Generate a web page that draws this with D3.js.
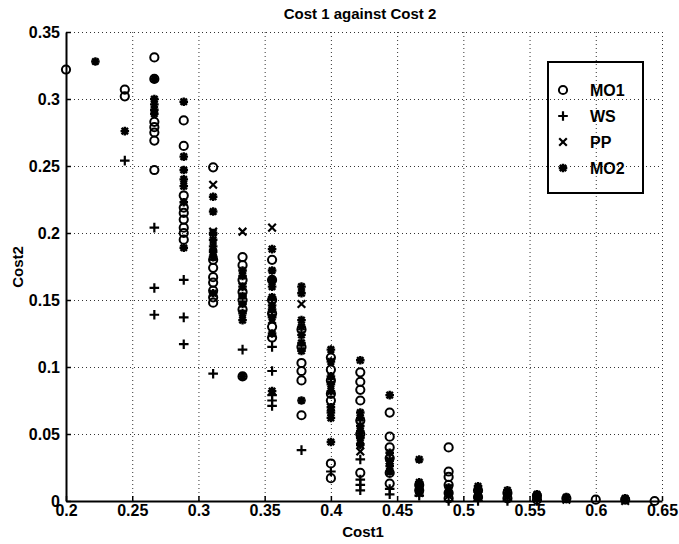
<!DOCTYPE html>
<html>
<head>
<meta charset="utf-8">
<script src="https://cdn.jsdelivr.net/npm/d3@7"></script>
<style>
body { margin: 0; background: #fff; }
text { font-family: "Liberation Sans", Arial, sans-serif; fill: #000; }
.grid line { stroke: #333; stroke-dasharray: 1,3; }
.grid path { display: none; }
</style>
</head>
<body>
<svg width="679" height="544"></svg>
<script>
// values, [Cost1, Cost2]
var mo1 = [
  [0.2, 0.322],
  [0.2444, 0.307], [0.2444, 0.302],
  [0.2667, 0.331], [0.2667, 0.315], [0.2667, 0.283], [0.2667, 0.279], [0.2667, 0.275], [0.2667, 0.269], [0.2667, 0.247],
  [0.2889, 0.284], [0.2889, 0.265], [0.2889, 0.228], [0.2889, 0.219], [0.2889, 0.215], [0.2889, 0.21], [0.2889, 0.204], [0.2889, 0.2], [0.2889, 0.195],
  [0.3111, 0.249], [0.3111, 0.18], [0.3111, 0.174], [0.3111, 0.167], [0.3111, 0.163], [0.3111, 0.157], [0.3111, 0.152], [0.3111, 0.148],
  [0.3333, 0.182], [0.3333, 0.176], [0.3333, 0.165], [0.3333, 0.156], [0.3333, 0.15], [0.3333, 0.143], [0.3333, 0.093],
  [0.3556, 0.18], [0.3556, 0.165], [0.3556, 0.15], [0.3556, 0.14], [0.3556, 0.13], [0.3556, 0.122],
  [0.3778, 0.128], [0.3778, 0.115], [0.3778, 0.103], [0.3778, 0.097], [0.3778, 0.09], [0.3778, 0.064],
  [0.4, 0.107], [0.4, 0.098], [0.4, 0.09], [0.4, 0.08], [0.4, 0.075], [0.4, 0.028], [0.4, 0.017],
  [0.4222, 0.096], [0.4222, 0.089], [0.4222, 0.083], [0.4222, 0.075], [0.4222, 0.06], [0.4222, 0.05], [0.4222, 0.021],
  [0.4444, 0.066], [0.4444, 0.048], [0.4444, 0.04], [0.4444, 0.032], [0.4444, 0.021], [0.4444, 0.013],
  [0.4667, 0.012], [0.4667, 0.008],
  [0.4889, 0.04], [0.4889, 0.022], [0.4889, 0.018], [0.4889, 0.012], [0.4889, 0.006], [0.4889, 0.002],
  [0.5111, 0.008], [0.5111, 0.003],
  [0.5333, 0.006], [0.5333, 0.002],
  [0.5556, 0.004], [0.5556, 0.001],
  [0.5778, 0.002], [0.6, 0.001], [0.6222, 0.001], [0.6444, 0.0]
];
var ws = [
  [0.2444, 0.254],
  [0.2667, 0.204], [0.2667, 0.159], [0.2667, 0.139],
  [0.2889, 0.165], [0.2889, 0.137], [0.2889, 0.117],
  [0.3111, 0.095], [0.3333, 0.113],
  [0.3556, 0.115], [0.3556, 0.097], [0.3556, 0.079], [0.3556, 0.075], [0.3556, 0.071],
  [0.3778, 0.038], [0.4, 0.022],
  [0.4222, 0.031], [0.4222, 0.016], [0.4222, 0.012], [0.4222, 0.008],
  [0.4444, 0.009], [0.4444, 0.005], [0.4667, 0.004],
  [0.4889, 0.0], [0.5111, 0.0], [0.5333, 0.0], [0.5556, 0.0]
];
var pp = [
  [0.3111, 0.236], [0.3111, 0.201], [0.3111, 0.185],
  [0.3333, 0.201], [0.3333, 0.16],
  [0.3556, 0.204], [0.3556, 0.135],
  [0.3778, 0.147], [0.4, 0.07],
  [0.4222, 0.045], [0.4222, 0.037], [0.4444, 0.03],
  [0.4667, 0.006], [0.4889, 0.004], [0.5111, 0.004], [0.5333, 0.003],
  [0.5556, 0.002], [0.5778, 0.001], [0.6222, 0.0]
];
var mo2 = [
  [0.2222, 0.328], [0.2444, 0.276],
  [0.2667, 0.315], [0.2667, 0.3], [0.2667, 0.296], [0.2667, 0.292], [0.2667, 0.289],
  [0.2889, 0.298], [0.2889, 0.257], [0.2889, 0.247], [0.2889, 0.24], [0.2889, 0.235], [0.2889, 0.223], [0.2889, 0.189],
  [0.3111, 0.227], [0.3111, 0.216], [0.3111, 0.2], [0.3111, 0.195], [0.3111, 0.19], [0.3111, 0.186], [0.3111, 0.182], [0.3111, 0.155],
  [0.3333, 0.172], [0.3333, 0.168], [0.3333, 0.16], [0.3333, 0.153], [0.3333, 0.147], [0.3333, 0.14], [0.3333, 0.135], [0.3333, 0.093],
  [0.3556, 0.188], [0.3556, 0.172], [0.3556, 0.165], [0.3556, 0.16], [0.3556, 0.152], [0.3556, 0.146], [0.3556, 0.143], [0.3556, 0.137], [0.3556, 0.125], [0.3556, 0.082],
  [0.3778, 0.16], [0.3778, 0.155], [0.3778, 0.135], [0.3778, 0.13], [0.3778, 0.124], [0.3778, 0.118], [0.3778, 0.112], [0.3778, 0.075],
  [0.4, 0.113], [0.4, 0.104], [0.4, 0.093], [0.4, 0.087], [0.4, 0.082], [0.4, 0.07], [0.4, 0.066], [0.4, 0.062], [0.4, 0.044],
  [0.4222, 0.105], [0.4222, 0.066], [0.4222, 0.062], [0.4222, 0.056], [0.4222, 0.052], [0.4222, 0.047], [0.4222, 0.042],
  [0.4444, 0.079], [0.4444, 0.036], [0.4444, 0.03], [0.4444, 0.026], [0.4444, 0.022],
  [0.4667, 0.031], [0.4667, 0.014], [0.4667, 0.01], [0.4667, 0.006],
  [0.4889, 0.01], [0.4889, 0.006],
  [0.5111, 0.011], [0.5111, 0.007], [0.5111, 0.002],
  [0.5333, 0.008], [0.5333, 0.004],
  [0.5556, 0.005], [0.5556, 0.002],
  [0.5778, 0.003], [0.6222, 0.002]
];
var seriesNames = ["MO1", "WS", "PP", "MO2"];
var xTicks = [0.2, 0.25, 0.3, 0.35, 0.4, 0.45, 0.5, 0.55, 0.6, 0.65];
var yTicks = [0, 0.05, 0.1, 0.15, 0.2, 0.25, 0.3, 0.35];

var svg = d3.select("svg");
var plotLeft = 66, plotRight = 662, plotTop = 32, plotBottom = 501;

var xScale = d3.scaleLinear().domain([0.2, 0.65]).range([plotLeft, plotRight]);
var yScale = d3.scaleLinear().domain([0, 0.35]).range([plotBottom, plotTop]);

// dotted grid
svg.append("g")
    .attr("class", "grid")
    .attr("transform", "translate(0," + plotBottom + ")")
    .call(d3.axisBottom(xScale).tickValues(xTicks).tickSize(-(plotBottom - plotTop)).tickFormat(""));
svg.append("g")
    .attr("class", "grid")
    .attr("transform", "translate(" + plotLeft + ",0)")
    .call(d3.axisLeft(yScale).tickValues(yTicks).tickSize(-(plotRight - plotLeft)).tickFormat(""));

// axes, ticks pointing inward
var fmt = function(d) { return String(+d.toFixed(2)); };
var xAxis = svg.append("g")
    .attr("transform", "translate(0," + plotBottom + ")")
    .call(d3.axisBottom(xScale).tickValues(xTicks).tickSizeInner(-5).tickSizeOuter(0).tickFormat(fmt));
var yAxis = svg.append("g")
    .attr("transform", "translate(" + plotLeft + ",0)")
    .call(d3.axisLeft(yScale).tickValues(yTicks).tickSizeInner(-5).tickSizeOuter(0).tickPadding(6).tickFormat(fmt));
[xAxis, yAxis].forEach(function(a) {
    a.select(".domain").attr("stroke", "#000").attr("stroke-width", 2);
    a.selectAll(".tick line").attr("stroke", "#000").attr("stroke-width", 1.5);
    a.selectAll(".tick text").style("font-size", "16px").style("font-weight", "bold")
        .style("font-family", "'Liberation Sans', Arial, sans-serif");
});
// x labels sit close under the axis
xAxis.selectAll(".tick text").attr("y", 4);

// marker shapes
function drawMarker(g, type) {
    if (type == "MO1") {
        g.append("circle").attr("r", 4.1).attr("fill", "none").attr("stroke", "#000").attr("stroke-width", 2);
    } else if (type == "WS") {
        g.append("path").attr("d", "M-4.8,0H4.8M0,-4.8V4.8").attr("stroke", "#000").attr("stroke-width", 2.2);
    } else if (type == "PP") {
        g.append("path").attr("d", "M-3.8,-3.8L3.8,3.8M-3.8,3.8L3.8,-3.8").attr("stroke", "#000").attr("stroke-width", 2.2);
    } else {
        g.append("path").attr("d", "M-4.3,0H4.3M0,-4.3V4.3M-3.2,-3.2L3.2,3.2M-3.2,3.2L3.2,-3.2").attr("stroke", "#000").attr("stroke-width", 2.4);
    }
}

var allData = [mo1, ws, pp, mo2];
allData.forEach(function(data, i) {
    svg.append("g").selectAll("g")
        .data(data)
        .enter()
        .append("g")
        .attr("transform", function(d) { return "translate(" + xScale(d[0]) + "," + yScale(d[1]) + ")"; })
        .each(function() { drawMarker(d3.select(this), seriesNames[i]); });
});

// title and labels
svg.append("text")
    .attr("x", 360).attr("y", 19)
    .attr("text-anchor", "middle")
    .style("font-size", "15px")
    .style("font-weight", "bold")
    .text("Cost 1 against Cost 2");
svg.append("text")
    .attr("x", 363).attr("y", 537)
    .attr("text-anchor", "middle")
    .style("font-size", "15px")
    .style("font-weight", "bold")
    .text("Cost1");
svg.append("text")
    .attr("transform", "translate(23,267) rotate(-90)")
    .attr("text-anchor", "middle")
    .style("font-size", "15px")
    .style("font-weight", "bold")
    .text("Cost2");

// legend
var legend = svg.append("g").attr("transform", "translate(548,62)");
legend.append("rect")
    .attr("width", 95).attr("height", 131)
    .attr("fill", "none").attr("stroke", "#000").attr("stroke-width", 2);
seriesNames.forEach(function(name, i) {
    var row = legend.append("g").attr("transform", "translate(15," + (28 + i * 26) + ")");
    drawMarker(row, name);
    row.append("text")
        .attr("x", 27).attr("y", 6)
        .style("font-size", "16px")
        .style("font-weight", "bold")
        .text(name);
});
</script>
</body>
</html>
